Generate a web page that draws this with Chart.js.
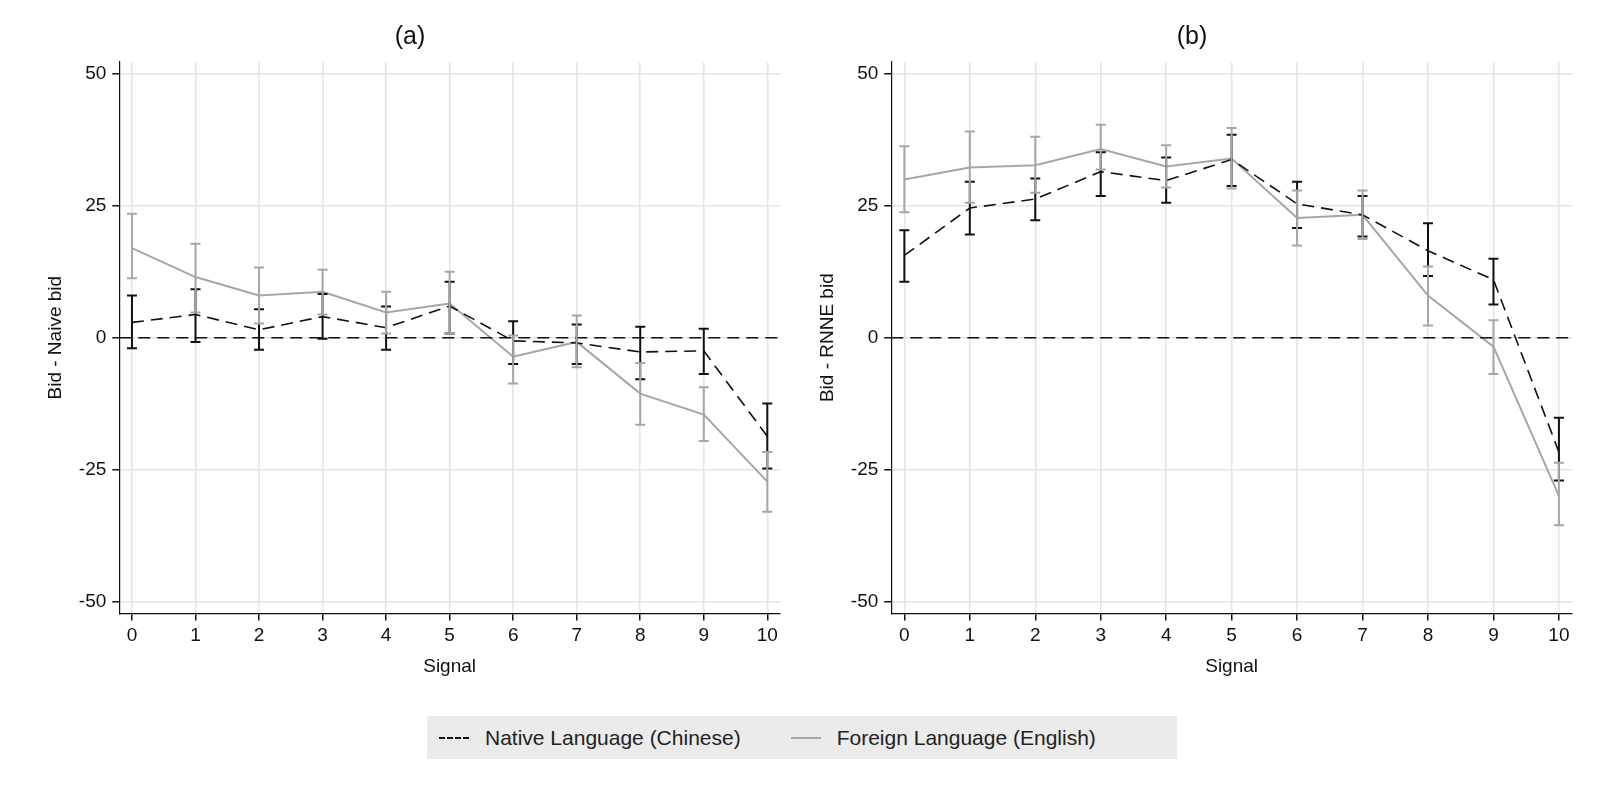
<!DOCTYPE html>
<html><head><meta charset="utf-8">
<script src="https://cdn.jsdelivr.net/npm/chart.js@4.4.0/dist/chart.umd.min.js"></script>
<style>
body{margin:0;background:#fff;font-family:"Liberation Sans",Arial,sans-serif;}
.wrap{position:absolute;top:0;height:690px;}
#legend{position:absolute;left:427px;top:716px;width:750px;height:43px;background:#ebebeb;display:flex;align-items:center;font-size:21px;color:#222;}
#legend span.k{display:inline-block;width:30px;height:0;margin:0 16px 0 10px;}
</style></head><body>
<div class="wrap" style="left:10px;width:784px"><canvas id="ca"></canvas></div>
<div class="wrap" style="left:782px;width:804px"><canvas id="cb"></canvas></div>
<div id="legend">
 <span class="k" style="border-top:2px dashed #111;margin-left:12px"></span>Native Language (Chinese)
 <span class="k" style="border-top:2px solid #a6a6a6;margin-left:50px"></span>Foreign Language (English)
</div>
<script>
// signals on the x axis
const signals = [0,1,2,3,4,5,6,7,8,9,10];
const yTicks = [-50,-25,0,25,50];

// panel (a): bid - naive bid
const nativeA = [2.9,4.4,1.5,4,1.9,6,-0.6,-1,-2.7,-2.5,-18.7];
const nativeAHi = [8,9.2,5.4,8.3,5.9,10.6,3.1,2.5,2.1,1.7,-12.5];
const nativeALo = [-2,-0.8,-2.3,-0.2,-2.3,0.8,-5,-5,-7.9,-6.9,-24.8];
const foreignA = [17,11.5,8,8.7,4.8,6.5,-3.6,-0.8,-10.6,-14.6,-27.3];
const foreignAHi = [23.5,17.8,13.3,12.9,8.7,12.5,0.4,4.2,-4.8,-9.4,-21.7];
const foreignALo = [11.3,4.8,2.7,4.4,0.8,0.8,-8.7,-5.6,-16.5,-19.6,-33];

// panel (b): bid - RNNE bid
const nativeB = [15.6,24.6,26.3,31.5,29.8,33.8,25.4,23.3,16.5,11,-21.7];
const nativeBHi = [20.4,29.6,30.2,35.2,34.2,38.5,29.6,26.9,21.7,15,-15.2];
const nativeBLo = [10.6,19.6,22.3,26.9,25.6,28.8,20.8,19.2,11.7,6.3,-27.1];
const foreignB = [30,32.3,32.7,35.8,32.5,34,22.7,23.3,8,-1.7,-30];
const foreignBHi = [36.3,39.1,38.1,40.4,36.5,39.8,27.9,27.9,13.5,3.3,-23.7];
const foreignBLo = [23.8,25.6,27.5,31.9,28.5,28.3,17.5,18.7,2.3,-6.9,-35.6];

const errPlugin = {
  id:'err',
  afterDatasetsDraw(chart){
    const {ctx, scales:{x,y}, chartArea:a} = chart;
    ctx.save();
    // zero reference line
    ctx.strokeStyle='#111'; ctx.lineWidth=1.5; ctx.setLineDash([12,7]);
    ctx.beginPath(); ctx.moveTo(a.left,y.getPixelForValue(0)); ctx.lineTo(a.right,y.getPixelForValue(0)); ctx.stroke();
    ctx.setLineDash([]);
    chart.data.datasets.forEach(ds=>{
      ctx.strokeStyle=ds.borderColor; ctx.lineWidth=2;
      ds.data.forEach((v,i)=>{
        const px=x.getPixelForValue(signals[i]);
        const hi=y.getPixelForValue(ds.hi[i]), lo=y.getPixelForValue(ds.lo[i]);
        ctx.beginPath();
        ctx.moveTo(px,hi);ctx.lineTo(px,lo);
        ctx.moveTo(px-5,hi);ctx.lineTo(px+5,hi);
        ctx.moveTo(px-5,lo);ctx.lineTo(px+5,lo);
        ctx.stroke();
      });
    });
    ctx.restore();
  }
};

function makeChart(id, title, ytitle, nat, natHi, natLo, forr, forHi, forLo){
  const pts = arr => arr.map((v,i)=>({x:signals[i],y:v}));
  const font = {family:'"Liberation Sans", Arial, sans-serif', size:19};
  return new Chart(document.getElementById(id), {
    type:'line',
    data:{datasets:[
      {label:'Native Language (Chinese)', data:pts(nat), hi:natHi, lo:natLo,
       borderColor:'#111', borderDash:[12,7], borderWidth:1.6, pointRadius:0, fill:false, tension:0},
      {label:'Foreign Language (English)', data:pts(forr), hi:forHi, lo:forLo,
       borderColor:'#a6a6a6', borderWidth:2, pointRadius:0, fill:false, tension:0}
    ]},
    options:{
      responsive:true, maintainAspectRatio:false, animation:false,
      layout:{padding:{top:8,right:14,left:30,bottom:8}},
      plugins:{legend:{display:false}, tooltip:{enabled:false},
        title:{display:true, text:title, color:'#111', font:{...font,size:25,weight:'normal'}, padding:{top:14,bottom:10}}},
      scales:{
        x:{type:'linear', min:-0.2, max:10.2,
          afterBuildTicks:s=>{s.ticks=signals.map(v=>({value:v}));},
          title:{display:true,text:'Signal',color:'#111',font,padding:{top:4}},
          ticks:{color:'#111',font,padding:4},
          grid:{color:'#e4e4e4',lineWidth:1.5,tickColor:'#111',tickLength:7,drawOnChartArea:true},
          border:{color:'#111',width:1.2}},
        y:{min:-52.3, max:52.3,
          afterBuildTicks:s=>{s.ticks=yTicks.map(v=>({value:v}));},
          title:{display:true,text:ytitle,color:'#111',font,padding:{bottom:6}},
          ticks:{color:'#111',font,padding:6},
          grid:{color:'#e4e4e4',lineWidth:1.5,tickColor:'#111',tickLength:7},
          border:{color:'#111',width:1.2}}
      }
    },
    plugins:[errPlugin]
  });
}
makeChart('ca','(a)','Bid - Naive bid',nativeA,nativeAHi,nativeALo,foreignA,foreignAHi,foreignALo);
makeChart('cb','(b)','Bid - RNNE bid',nativeB,nativeBHi,nativeBLo,foreignB,foreignBHi,foreignBLo);
</script>
</body></html>
